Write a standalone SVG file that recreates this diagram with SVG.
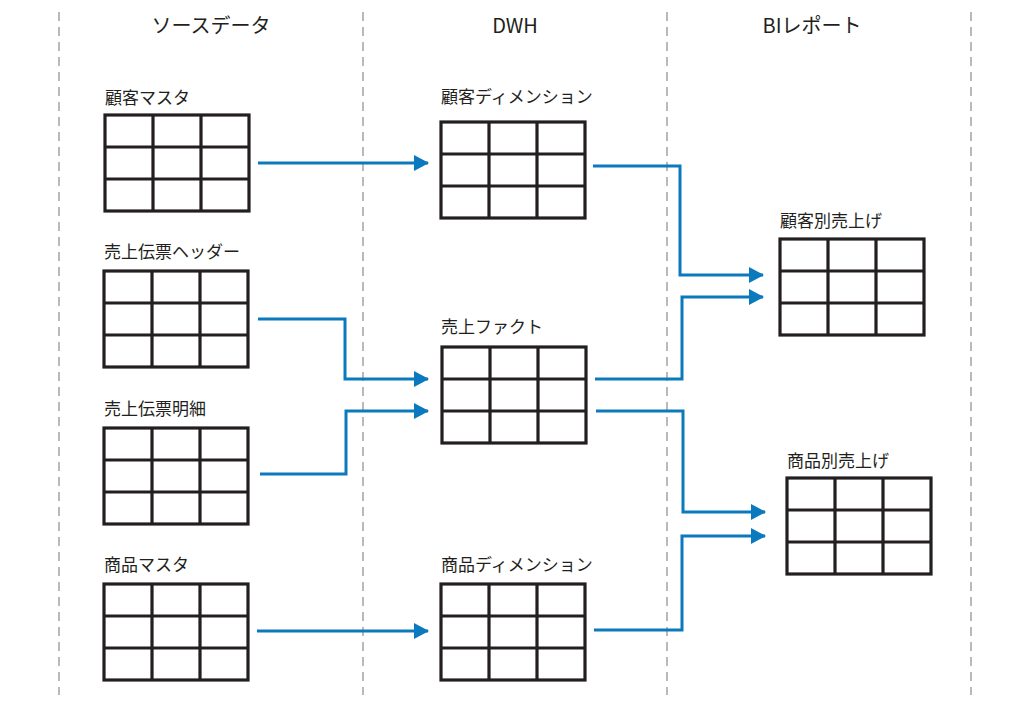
<svg xmlns="http://www.w3.org/2000/svg" xmlns:xlink="http://www.w3.org/1999/xlink" width="1030" height="717" viewBox="0 0 1030 717">
<style>
text{font-family:"Noto Sans CJK JP","Noto Sans",sans-serif;fill:#231f20}
.hd{font-size:20px;text-anchor:middle}
.lb{font-size:17px}
.lane{stroke:#a8a8a8;stroke-width:1.6;stroke-dasharray:9 6;fill:none}
.grid{fill:#fff;stroke:#231f20;stroke-width:3.2}
.con{fill:none;stroke:#0a79be;stroke-width:3;marker-end:url(#ah)}
</style>
<defs>
<marker id="ah" viewBox="0 0 15 16" refX="14" refY="8" markerWidth="15" markerHeight="16" markerUnits="userSpaceOnUse" orient="auto">
<path d="M0,0 L15,8 L0,16 Z" fill="#0a79be"/>
</marker>
<g id="tbl">
<rect class="grid" x="0" y="0" width="144" height="96"/>
<path class="grid" d="M48,0 V96 M96,0 V96 M0,32 H144 M0,64 H144"/>
</g>
</defs>
<rect width="1030" height="717" fill="#fff"/>
<g id="lanes">
<line class="lane" x1="59" y1="12" x2="59" y2="695"/>
<line class="lane" x1="363" y1="12" x2="363" y2="695"/>
<line class="lane" x1="667" y1="12" x2="667" y2="695"/>
<line class="lane" x1="971" y1="12" x2="971" y2="695"/>
</g>
<g id="headers">
<text class="hd" x="211" y="33">ソースデータ</text>
<text class="hd" x="515" y="33">DWH</text>
<text class="hd" x="812" y="33">BIレポート</text>
</g>
<g id="src-customer"><text class="lb" x="105" y="104">顧客マスタ</text><use xlink:href="#tbl" x="105" y="115"/></g>
<g id="src-header"><text class="lb" x="104" y="258">売上伝票ヘッダー</text><use xlink:href="#tbl" x="104" y="271"/></g>
<g id="src-detail"><text class="lb" x="104" y="415">売上伝票明細</text><use xlink:href="#tbl" x="104" y="428"/></g>
<g id="src-product"><text class="lb" x="104" y="571">商品マスタ</text><use xlink:href="#tbl" x="104" y="584"/></g>
<g id="dwh-customer"><text class="lb" x="441" y="103">顧客ディメンション</text><use xlink:href="#tbl" x="441" y="122"/></g>
<g id="dwh-fact"><text class="lb" x="441" y="333">売上ファクト</text><use xlink:href="#tbl" x="442" y="347"/></g>
<g id="dwh-product"><text class="lb" x="441" y="571">商品ディメンション</text><use xlink:href="#tbl" x="441" y="584"/></g>
<g id="bi-customer"><text class="lb" x="780" y="227">顧客別売上げ</text><use xlink:href="#tbl" x="780" y="239"/></g>
<g id="bi-product"><text class="lb" x="787" y="467">商品別売上げ</text><use xlink:href="#tbl" x="787" y="478"/></g>
<g id="connectors">
<path class="con" d="M258,163 H428"/>
<path class="con" d="M258,319 H345 V379 H428"/>
<path class="con" d="M260,474 H346 V411 H428"/>
<path class="con" d="M257,631 H428"/>
<path class="con" d="M593,166 H680 V275 H763"/>
<path class="con" d="M595,379 H682 V297 H763"/>
<path class="con" d="M596,411 H683 V512 H765"/>
<path class="con" d="M594,630 H682 V536 H765"/>
</g>
</svg>
